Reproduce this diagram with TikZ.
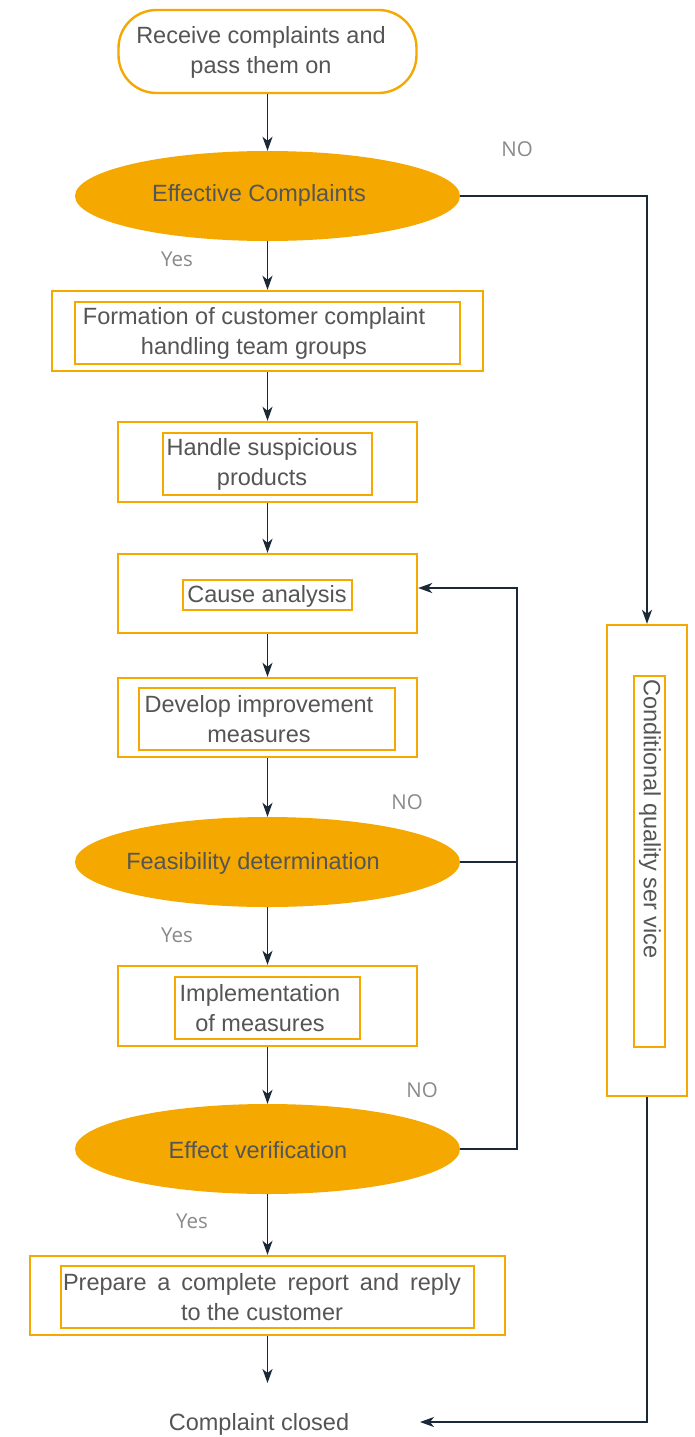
\documentclass[tikz,border=0pt]{standalone}
\usepackage{fontspec}
\setmainfont{Liberation Sans}
\newfontfamily\lblfont{Open Sans}
\usetikzlibrary{shapes.geometric,arrows.meta}
\definecolor{orng}{HTML}{F5A900}
\definecolor{navy}{HTML}{1B2838}
\definecolor{txtgray}{HTML}{555555}
\definecolor{lblgray}{HTML}{8A8A8A}
\begin{document}
\begin{tikzpicture}[x=1pt,y=-1pt,
  obox/.style={draw=orng, line width=2.4pt, rectangle, inner sep=0pt},
  ibox/.style={draw=orng, line width=2.4pt, rectangle, inner sep=0pt},
  decision/.style={ellipse, fill=orng, draw=none, inner sep=0pt, minimum width=385pt, minimum height=90pt},
  txt/.style={text=txtgray, font=\fontsize{23.5}{30}\selectfont, align=center, inner sep=0pt},
  lbl/.style={text=lblgray, font=\lblfont\fontsize{20.5}{24}\selectfont, inner sep=0pt},
  arr/.style={draw=navy, line width=1.8pt, -{Stealth[length=14pt,width=10pt,inset=4pt]}},
  lin/.style={draw=navy, line width=1.5pt}]
\useasboundingbox (0,0) rectangle (694,1437);
\fill[white] (0,0) rectangle (694,1437);

% top rounded box
\node[obox, rounded corners=38pt, minimum width=298pt, minimum height=83pt] (b1) at (267.5,51.5) {};
\node[txt] (t1) at (261,52) {Receive complaints and\\pass them on};

% decision 1
\node[decision] (e1) at (267.5,196) {};
\node[txt] (te1) at (259,195) {Effective Complaints};

% box 2
\node[obox, minimum width=431pt, minimum height=80pt] (b2) at (267.5,331) {};
\node[ibox, minimum width=385pt, minimum height=62pt] (i2) at (267.5,333) {};
\node[txt] (t2) at (254,333) {Formation of customer complaint\\handling team groups};

% box 3
\node[obox, minimum width=299pt, minimum height=80pt] (b3) at (267.5,462) {};
\node[ibox, minimum width=209pt, minimum height=62pt] (i3) at (267.5,464) {};
\node[txt] (t3) at (262,464) {Handle suspicious\\products};

% box 4
\node[obox, minimum width=299pt, minimum height=79pt] (b4) at (267.5,593.5) {};
\node[ibox, minimum width=169pt, minimum height=30pt] (i4) at (267.5,595) {};
\node[txt] (t4) at (267,596) {Cause analysis};

% box 5
\node[obox, minimum width=299pt, minimum height=79pt] (b5) at (267.5,717.5) {};
\node[ibox, minimum width=256pt, minimum height=62pt] (i5) at (267,719) {};
\node[txt] (t5) at (259,719) {Develop improvement\\measures};

% decision 2
\node[decision] (e2) at (267.5,862) {};
\node[txt] (te2) at (253,863) {Feasibility determination};

% box 6
\node[obox, minimum width=299pt, minimum height=80pt] (b6) at (267.5,1006) {};
\node[ibox, minimum width=185pt, minimum height=62pt] (i6) at (267.5,1008) {};
\node[txt] (t6) at (260,1008) {Implementation\\of measures};

% decision 3
\node[decision] (e3) at (267.5,1149) {};
\node[txt] (te3) at (258,1150) {Effect verification};

% box 8
\node[obox, minimum width=475pt, minimum height=79pt] (b8) at (267.5,1295.5) {};
\node[ibox, minimum width=413pt, minimum height=62pt] (i8) at (267.5,1297) {};
\node[txt] (t8) at (262,1297) {\makebox[398pt][s]{Prepare a complete report and reply}\\to the customer};

% closed
\node[txt] (closed) at (259,1424) {Complaint closed};

% right box
\node[obox, minimum width=80pt, minimum height=471pt] (qs) at (647,860.5) {};
\node[ibox, minimum width=31pt, minimum height=371pt] (iqs) at (649.5,861.5) {};
\node[txt, rotate=-90, anchor=west] (tqs) at (650,679) {Conditional quality ser vice};

% labels
\node[lbl] (no1) at (517,149) {NO};
\node[lbl] (yes1) at (177,259) {Yes};
\node[lbl] (no2) at (407,802) {NO};
\node[lbl] (yes2) at (177,935) {Yes};
\node[lbl] (no3) at (422,1090) {NO};
\node[lbl] (yes3) at (192,1221) {Yes};

% coordinates
\coordinate (fbk) at (517,588);
\coordinate (cend) at (420,1422);
\coordinate (closedtip) at (267.5,1383);

% connectors
\draw[arr] (b1.south) -- (e1.north);
\draw[arr] (e1.south) -- (b2.north);
\draw[arr] (b2.south) -- (b3.north);
\draw[arr] (b3.south) -- (b4.north);
\draw[arr] (b4.south) -- (b5.north);
\draw[arr] (b5.south) -- (e2.north);
\draw[arr] (e2.south) -- (b6.north);
\draw[arr] (b6.south) -- (e3.north);
\draw[arr] (e3.south) -- (b8.north);
\draw[arr] (b8.south) -- (closedtip);
\draw[arr, lin] (e1.east) -| (qs.north);
\draw[arr, lin] (e3.east) -| (fbk) -- (fbk -| b4.east);
\draw[lin] (e2.east) -- (e2.east -| fbk);
\draw[arr, lin] (qs.south) |- (cend);
\end{tikzpicture}
\end{document}
